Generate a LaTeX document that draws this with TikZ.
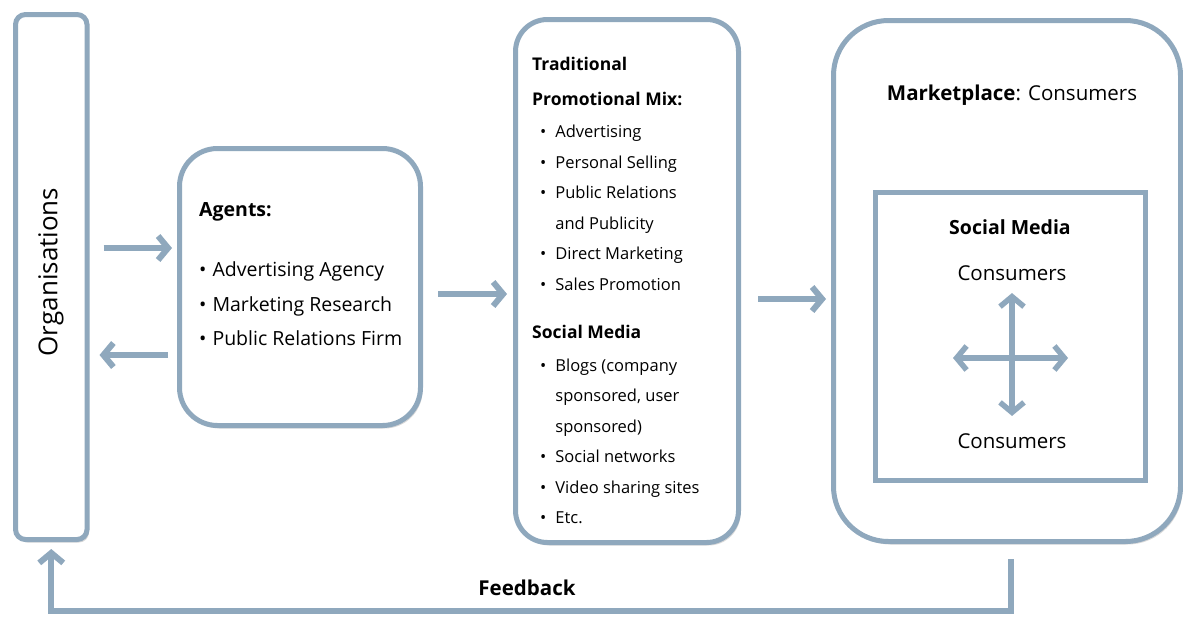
\documentclass[tikz,border=0pt]{standalone}
\usepackage{fontspec}
\setmainfont{Open Sans}
\usetikzlibrary{arrows.meta,shadows}

\definecolor{frame}{RGB}{143,168,189}
\newcommand\agentfont{\fontsize{19.5}{34.5}\selectfont}
\newcommand\promofont{\fontsize{16.5}{30.5}\selectfont}
\newcommand\headfont{\fontsize{17.5}{30.5}\selectfont\bfseries}

\tikzset{
  box/.style={draw=frame, line width=5pt, fill=white, rounded corners=#1,
    drop shadow={shadow xshift=2pt, shadow yshift=-3pt, opacity=.3}},
  flow/.style={draw=frame, line width=6pt, ->},
  cross/.style={draw=frame, line width=5.5pt, <->},
}

\begin{document}
\begin{tikzpicture}[x=1pt, y=-1pt, >={Straight Barb[length=10pt,width=24pt]}]
\useasboundingbox (0,0) rectangle (1183,616);

% the four stages
\node[box=10pt, minimum width=71.5pt, minimum height=525pt] (org) at (51.25,277) {};
\node[box=38pt, minimum width=241pt, minimum height=277pt] (agents) at (300,287) {};
\node[box=32pt, minimum width=223pt, minimum height=523pt] (promo) at (627,281) {};
\node[box=55pt, minimum width=347pt, minimum height=521pt] (market) at (1007,281) {};
\node[draw=frame, line width=5pt, minimum width=270pt, minimum height=288pt] (social) at (1010.5,336.5) {};

% texts
\node[rotate=90, font=\fontsize{26}{30}\selectfont] (orgtext) at (51,272) {Organisations};
\node[anchor=north west, align=left, inner sep=0pt, font=\agentfont] (agentlist) at (199,202) {%
  \textbf{Agents:}\\[26pt]
  \textbullet\hspace{6pt}Advertising Agency\\
  \textbullet\hspace{6pt}Marketing Research\\
  \textbullet\hspace{6pt}Public Relations Firm};
\node[anchor=north west, align=left, inner sep=0pt, font=\promofont] (promolist) at (532,57) {%
  {\headfont Traditional}\\[4.5pt]
  {\headfont Promotional Mix:}\\[1.5pt]
  \hspace{8pt}\textbullet\hspace{9pt}Advertising\\
  \hspace{8pt}\textbullet\hspace{9pt}Personal Selling\\
  \hspace{8pt}\textbullet\hspace{9pt}Public Relations\\
  \hspace{8pt}\phantom{\textbullet}\hspace{9pt}and Publicity\\
  \hspace{8pt}\textbullet\hspace{9pt}Direct Marketing\\
  \hspace{8pt}\textbullet\hspace{9pt}Sales Promotion\\[17.5pt]
  {\headfont Social Media}\\[2.5pt]
  \hspace{8pt}\textbullet\hspace{9pt}Blogs (company\\
  \hspace{8pt}\phantom{\textbullet}\hspace{9pt}sponsored, user\\
  \hspace{8pt}\phantom{\textbullet}\hspace{9pt}sponsored)\\
  \hspace{8pt}\textbullet\hspace{9pt}Social networks\\
  \hspace{8pt}\textbullet\hspace{9pt}Video sharing sites\\
  \hspace{8pt}\textbullet\hspace{9pt}Etc.};
\node[font=\fontsize{20.5}{24}\selectfont] (mtitle) at (1012,95) {\textbf{Marketplace}: Consumers};
\node[font=\fontsize{19.5}{24}\selectfont] (stitle) at (1010,227) {\textbf{Social Media}};
\node[font=\fontsize{20.5}{24}\selectfont] (ctop) at (1012,273) {Consumers};
\node[font=\fontsize{20.5}{24}\selectfont] (cbot) at (1012,441) {Consumers};
\node[font=\fontsize{20.5}{24}\selectfont] (fbtext) at (527,588) {\textbf{Feedback}};

% flows
\draw[flow, shorten <=14pt, shorten >=5pt] (org.east |- 0,248) -- (agents.west |- 0,248);
\draw[flow, shorten <=9pt, shorten >=10pt] (agents.west |- 0,355) -- (org.east |- 0,355);
\draw[flow, shorten <=15pt, shorten >=6pt] (agents.east |- 0,294) -- (promo.west |- 0,294);
\draw[flow, shorten <=17pt, shorten >=5pt] (promo.east |- 0,299) -- (market.west |- 0,299);
\draw[flow, shorten <=15pt, shorten >=7pt] (social.south |- market.south) |- (org.south |- 0,611) -- (org.south);

% consumers talking to consumers
\coordinate (hubl) at (953,358);
\coordinate (hubr) at (1068,358);
\draw[cross, shorten <=9pt, shorten >=14pt] (ctop.south) -- (cbot.north);
\draw[cross] (hubl) -- (hubr);
\end{tikzpicture}
\end{document}
